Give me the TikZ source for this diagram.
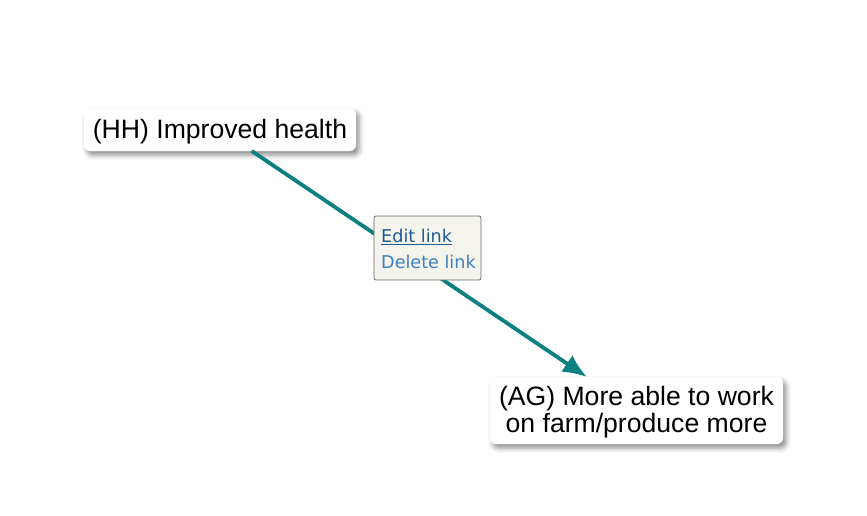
\documentclass[tikz,border=0pt]{standalone}
\usepackage{fontspec}
\setmainfont{Liberation Sans}
\newfontfamily\menufont{DejaVu Sans}
\usetikzlibrary{shadows.blur,arrows.meta}
\definecolor{linkteal}{HTML}{0A8080}
\definecolor{menubg}{HTML}{F4F4EC}
\definecolor{editblue}{HTML}{1F5A8F}
\definecolor{delblue}{HTML}{3C80C0}
\tikzstyle{factor}=[fill=white,rounded corners=6pt,align=center,inner xsep=7pt,
  inner ysep=4pt,outer sep=0pt,font=\fontsize{26.6}{27}\selectfont,
  blur shadow={shadow xshift=3pt,shadow yshift=-4pt,shadow blur radius=5pt,shadow opacity=45}]

\begin{document}
\begin{tikzpicture}[x=1pt,y=-1pt]
\useasboundingbox (0,0) rectangle (867,516);
  \node[factor, minimum width=272pt, minimum height=43pt, text height=23.4pt,
        text depth=5.6pt] (hh) at (220,129.5) {(HH) Improved health};
  \node[factor, minimum width=293pt, minimum height=67pt, text height=50.4pt,
        text depth=5.6pt] (ag) at (636.5,410.5)
       {(AG) More able to work\\on farm/produce more};
  \draw[linkteal, line width=3.8pt, -{Latex[length=24pt,width=20pt]}] (hh) -- (ag);
  % popup menu over the link
  \node[draw=gray!80!black, fill=menubg, rounded corners=2pt, minimum width=107pt,
        minimum height=64pt, line width=0.7pt] (menu) at (427.5,248) {};
  \node[anchor=west, font=\menufont\fontsize{17.6}{20}\selectfont, text=editblue,
        inner sep=0pt] (edit) at (381,237) {\underline{Edit link}};
  \node[anchor=west, font=\menufont\fontsize{17.6}{20}\selectfont, text=delblue,
        inner sep=0pt] (delete) at (381,262) {Delete link};
\end{tikzpicture}
\end{document}
